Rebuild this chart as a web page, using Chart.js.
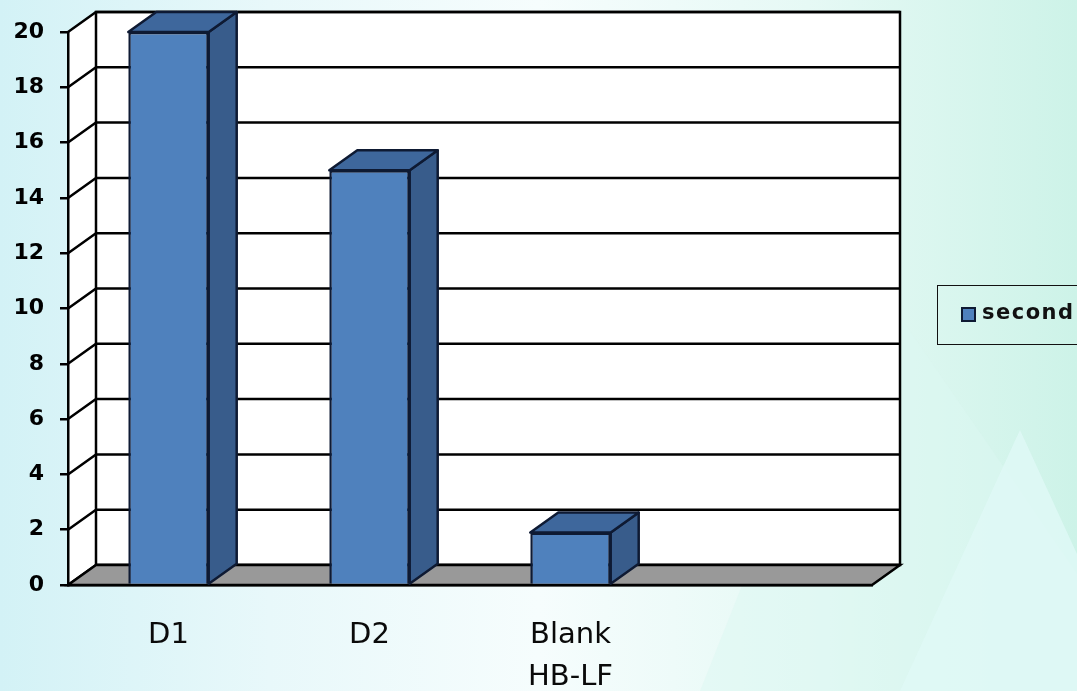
<!DOCTYPE html>
<html>
<head>
<meta charset="utf-8">
<script src="https://cdn.jsdelivr.net/npm/chart.js@4"></script>
<style>
  html, body { margin: 0; padding: 0; width: 1077px; height: 691px; overflow: hidden; }
  body {
    position: relative;
    background: linear-gradient(90deg, #d3f2f6 0%, #e8f8fa 25%, #f6fdfd 50%, #e6f9f5 75%, #cdf3e8 100%);
  }
  .tri { position: absolute; }
  #tri1 { left: 700px; top: 270px; width: 400px; height: 421px; background: #dcf7f1; clip-path: polygon(42% 0, 100% 80%, 100% 100%, 0 100%); opacity: .5; }
  #tri2 { left: 900px; top: 430px; width: 240px; height: 261px; background: #e0f9f6; clip-path: polygon(50% 0, 100% 100%, 0 100%); opacity: .8; }
  #chart { position: absolute; left: 0; top: 0; }
  #legend {
    position: absolute; left: 937px; top: 285px; width: 160px; height: 60px;
    box-sizing: border-box; border: 1.5px solid #111;
    font: bold 21px "DejaVu Sans"; letter-spacing: 1.5px; color: #111;
  }
  #legend .box {
    position: absolute; left: 23px; top: 21px; width: 15px; height: 15px;
    box-sizing: border-box; border: 2.5px solid #0e1a33; background: #4f81bd;
  }
  #legend .txt { position: absolute; left: 44px; top: 13px; line-height: 26px; }
</style>
</head>
<body>
<div class="tri" id="tri1"></div>
<div class="tri" id="tri2"></div>
<canvas id="chart" width="1077" height="691"></canvas>
<div id="legend"><span class="box"></span><span class="txt"></span></div>
<script>
// values
const categories = ['D1', 'D2', ['Blank', 'HB-LF'], ''];
const seriesName = 'second';
const seconds = [20, 15, 1.9, null];
const yMin = 0, yMax = 20, yStep = 2;

// 3D look
const depth = { dx: 28, dy: -20 };
const frontColor = '#4f81bd';
const sideColor = '#385c8b';
const topColor = '#3e679c';
const edgeColor = '#0e1a33';

const walls = {
    id: 'walls',
    beforeDraw(chart) {
        const { ctx, chartArea: { left, right, top, bottom }, scales: { y } } = chart;
        const { dx, dy } = depth;
        ctx.save();
        ctx.lineWidth = 2.5;
        ctx.strokeStyle = '#000';
        ctx.fillStyle = '#fff';
        // side wall
        ctx.beginPath();
        ctx.moveTo(left, top);
        ctx.lineTo(left + dx, top + dy);
        ctx.lineTo(left + dx, bottom + dy);
        ctx.lineTo(left, bottom);
        ctx.closePath();
        ctx.fill();
        // back wall
        ctx.fillRect(left + dx, top + dy, right - left, bottom - top);
        ctx.strokeRect(left + dx, top + dy, right - left, bottom - top);
        // grid lines on walls
        y.ticks.forEach(t => {
            const py = y.getPixelForValue(t.value);
            ctx.beginPath();
            ctx.moveTo(left, py);
            ctx.lineTo(left + dx, py + dy);
            ctx.lineTo(right + dx, py + dy);
            ctx.stroke();
        });
        // floor
        ctx.fillStyle = '#999999';
        ctx.beginPath();
        ctx.moveTo(left, bottom);
        ctx.lineTo(right, bottom);
        ctx.lineTo(right + dx, bottom + dy);
        ctx.lineTo(left + dx, bottom + dy);
        ctx.closePath();
        ctx.fill();
        ctx.stroke();
        ctx.restore();
    },
    afterDatasetsDraw(chart) {
        const { ctx } = chart;
        const { dx, dy } = depth;
        ctx.save();
        ctx.lineWidth = 2.5;
        ctx.strokeStyle = edgeColor;
        ctx.lineJoin = 'round';
        chart.getDatasetMeta(0).data.forEach((bar, i) => {
            if (seconds[i] == null) return;
            const { x, y, base, width } = bar.getProps(['x', 'y', 'base', 'width'], true);
            const l = x - width / 2, r = x + width / 2;
            // side face
            ctx.fillStyle = sideColor;
            ctx.beginPath();
            ctx.moveTo(r, y);
            ctx.lineTo(r + dx, y + dy);
            ctx.lineTo(r + dx, base + dy);
            ctx.lineTo(r, base);
            ctx.closePath();
            ctx.fill();
            ctx.stroke();
            // top face
            ctx.fillStyle = topColor;
            ctx.beginPath();
            ctx.moveTo(l, y);
            ctx.lineTo(r, y);
            ctx.lineTo(r + dx, y + dy);
            ctx.lineTo(l + dx, y + dy);
            ctx.closePath();
            ctx.fill();
            ctx.stroke();
        });
        ctx.restore();
    }
};

document.querySelector('#legend .txt').textContent = seriesName;

new Chart(document.getElementById('chart'), {
    type: 'bar',
    data: {
        labels: categories,
        datasets: [{
            label: seriesName,
            data: seconds,
            backgroundColor: frontColor,
            borderColor: edgeColor,
            borderWidth: 2.5,
            barPercentage: 0.4,
            categoryPercentage: 1
        }]
    },
    options: {
        responsive: false,
        animation: false,
        layout: { padding: { top: 32, right: 205, left: 0, bottom: 0 } },
        plugins: {
            legend: { display: false },
            tooltip: { enabled: false }
        },
        scales: {
            x: {
                grid: { display: false, drawTicks: false },
                border: { display: true, color: '#000', width: 2.5 },
                ticks: {
                    color: '#0a0a0a',
                    padding: 29,
                    font: { family: 'DejaVu Sans', size: 29, lineHeight: 1.45 }
                },
                afterFit(s) { s.height = 106; }
            },
            y: {
                min: yMin,
                max: yMax,
                ticks: {
                    stepSize: yStep,
                    color: '#000',
                    padding: 16,
                    font: { family: 'DejaVu Sans', weight: 'bold', size: 22 }
                },
                grid: { drawOnChartArea: false, drawTicks: true, tickLength: 8, color: '#000', lineWidth: 2.5 },
                border: { color: '#000', width: 2.5 },
                afterFit(s) { s.width = 68; }
            }
        }
    },
    plugins: [walls]
});
</script>
</body>
</html>
